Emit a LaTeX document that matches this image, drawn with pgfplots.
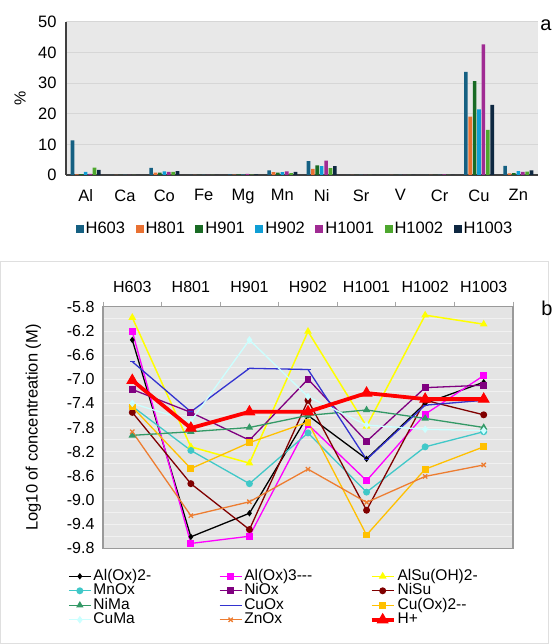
\documentclass[border=0pt]{standalone}
\usepackage{fontspec}
\setmainfont{Liberation Sans}
\usepackage{pgfplots}
\pgfplotsset{compat=1.18}
\definecolor{cA}{HTML}{156082}
\definecolor{cB}{HTML}{E97132}
\definecolor{cC}{HTML}{196B24}
\definecolor{cD}{HTML}{0F9ED5}
\definecolor{cE}{HTML}{A02B93}
\definecolor{cF}{HTML}{4EA72E}
\definecolor{cG}{HTML}{0E2841}
\definecolor{bgA}{HTML}{E8E8E8}
\definecolor{gridA}{HTML}{D6D6D6}
\definecolor{bgB}{HTML}{E4E4E4}
\definecolor{frameB}{HTML}{9A9A9A}
\definecolor{mag}{HTML}{FF00FF}
\definecolor{yel}{HTML}{FFFF00}
\definecolor{mno}{HTML}{40C8C8}
\definecolor{nio}{HTML}{800080}
\definecolor{nisu}{HTML}{800000}
\definecolor{nima}{HTML}{339966}
\definecolor{cuox}{HTML}{3333D0}
\definecolor{cuoxb}{HTML}{FFC000}
\definecolor{cuma}{HTML}{CCFFFF}
\definecolor{znox}{HTML}{ED7D31}
\pgfplotsset{every axis/.append style={/pgf/number format/assume math mode=true}}
\begin{document}
\begin{tikzpicture}
\useasboundingbox (0pt,0pt) rectangle (553pt,644pt);
\draw[gray!25, line width=1pt] (0.5pt,0.5pt) rectangle (548pt,382pt);
\node[font=\fontsize{20}{20}\selectfont] at (546pt,619pt) {a};
\node[font=\fontsize{20}{20}\selectfont] at (547pt,336pt) {b};
% ---------------- panel a
\begin{axis}[
  at={(66pt,469pt)}, anchor=south west, scale only axis,
  width=472pt, height=153.3pt,
  ymin=0, ymax=50, ytick={0,10,20,30,40,50},
  xmin=-0.5, xmax=11.5, xtick={0,...,11},
  xticklabels={Al,Ca,Co,Fe,Mg,Mn,Ni,Sr,V,Cr,Cu,Zn},
  ybar=0.8pt, bar width=3.6pt,
  axis background/.style={fill=bgA},
  axis x line*=bottom, axis y line*=left,
  axis line style={draw=black!75, line width=1.2pt},
  ymajorgrids, grid style={gridA, line width=0.8pt},
  major tick length=0pt,
  tick label style={font=\fontsize{16.5}{16.5}\selectfont},
  yticklabel style={xshift=-6pt},
  xticklabel style={yshift=-11pt},
  ylabel={\%},
  every axis y label/.style={at={(axis description cs:-0.097,0.5)}, rotate=90, anchor=center, font=\fontsize{16}{16}\selectfont},
  legend columns=7,
  legend style={at={(axis description cs:0.485,-0.35)}, anchor=center, draw=none, fill=none,
    font=\fontsize{16.5}{16.5}\selectfont, inner sep=0pt,
    nodes={inner sep=2pt},
    /tikz/every even column/.append style={column sep=8.5pt}},
  legend image code/.code={\fill[#1,draw=none] (0pt,-4pt) rectangle (8pt,4pt);},
]
\addplot[fill=cA,draw=none] coordinates {(0,11.3)(1,0)(2,2.3)(3,0)(4,0.2)(5,1.5)(6,4.5)(7,0)(8,0)(9,0)(10,33.6)(11,3.0)};
\addplot[fill=cB,draw=none] coordinates {(0,0.2)(1,0)(2,0.8)(3,0)(4,0.1)(5,0.9)(6,2.0)(7,0)(8,0)(9,0)(10,19.0)(11,0.5)};
\addplot[fill=cC,draw=none] coordinates {(0,0.3)(1,0)(2,0.8)(3,0)(4,0.2)(5,0.8)(6,3.1)(7,0)(8,0)(9,0)(10,30.6)(11,0.6)};
\addplot[fill=cD,draw=none] coordinates {(0,1.0)(1,0)(2,1.2)(3,0)(4,0.1)(5,0.9)(6,2.9)(7,0)(8,0)(9,0)(10,21.4)(11,1.3)};
\addplot[fill=cE,draw=none] coordinates {(0,0.4)(1,0)(2,1.0)(3,0)(4,0.4)(5,1.2)(6,4.7)(7,0)(8,0)(9,0.2)(10,42.6)(11,1.0)};
\addplot[fill=cF,draw=none] coordinates {(0,2.4)(1,0)(2,1.0)(3,0)(4,0.1)(5,0.6)(6,2.2)(7,0)(8,0)(9,0)(10,14.7)(11,1.1)};
\addplot[fill=cG,draw=none] coordinates {(0,1.7)(1,0)(2,1.3)(3,0)(4,0.2)(5,1.0)(6,2.9)(7,0)(8,0)(9,0)(10,22.9)(11,1.5)};
\legend{H603,H801,H901,H902,H1001,H1002,H1003}
\end{axis}
% ---------------- panel b
\begin{axis}[
  at={(103pt,95.7pt)}, anchor=south west, scale only axis,
  width=410pt, height=241.6pt,
  xmin=-0.5, xmax=6.5, ymin=-9.8, ymax=-5.8,
  xtick={0,...,6}, xticklabels={H603,H801,H901,H902,H1001,H1002,H1003},
  xticklabel pos=right, xtick pos=right,
  minor xtick={-0.5,0.5,1.5,2.5,3.5,4.5,5.5,6.5},
  ytick={-9.8,-9.4,-9.0,-8.6,-8.2,-7.8,-7.4,-7.0,-6.6,-6.2,-5.8},
  minor ytick={-9.6,-9.2,-8.8,-8.4,-8.0,-7.6,-7.2,-6.8,-6.4,-6.0},
  ytick pos=left,
  minor y tick style={draw=none},
  major tick length=0pt, minor tick length=5pt, tick align=outside,
  minor x tick style={draw=black!35, line width=0.8pt},
  ymajorgrids, yminorgrids,
  major grid style={white!50!bgB, line width=0.6pt},
  minor grid style={white!50!bgB, line width=0.6pt},
  axis background/.style={fill=bgB},
  axis line style={draw=frameB, line width=1.2pt},
  tick label style={font=\fontsize{16}{16}\selectfont},
  yticklabel style={/pgf/number format/.cd, fixed, fixed zerofill, precision=1, /tikz/.cd, xshift=-5pt},
  xticklabel style={yshift=11pt},
  ylabel={Log10 of concentreation (M)},
  every axis y label/.style={at={(axis description cs:-0.17,0.5)}, rotate=90, anchor=center, font=\fontsize{16.5}{16.5}\selectfont},
  legend columns=3,
  legend style={at={(axis description cs:-0.0854,-0.085)}, anchor=north west, draw=none, fill=none,
    font=\fontsize{15.5}{15.5}\selectfont, inner sep=0pt, row sep=0pt,
    nodes={inner sep=0pt, text height=11pt, text depth=3.5pt, text width=120pt, align=left},
    /tikz/every odd column/.append style={column sep=2pt},
    /tikz/every even column/.append style={column sep=5.5pt}},
  legend image code/.code={\draw[mark repeat=2,mark phase=2,#1] plot coordinates {(0pt,0pt) (11pt,0pt) (22pt,0pt)};},
]
\addplot[black, line width=1.3pt, mark=diamond*, mark size=2.2pt] coordinates {(0,-6.35)(1,-9.61)(2,-9.22)(3,-7.60)(4,-8.32)(5,-7.40)(6,-7.05)};
\addplot[mag, line width=1.3pt, mark=square*, mark size=2.8pt] coordinates {(0,-6.21)(1,-9.72)(2,-9.60)(3,-7.75)(4,-8.68)(5,-7.58)(6,-6.94)};
\addplot[yel, line width=1.5pt, mark=triangle*, mark size=3pt] coordinates {(0,-5.98)(1,-8.12)(2,-8.39)(3,-6.21)(4,-7.78)(5,-5.94)(6,-6.09)};
\addplot[mno, line width=1.3pt, mark=*, mark size=2.8pt] coordinates {(0,-7.45)(1,-8.18)(2,-8.73)(3,-7.89)(4,-8.87)(5,-8.12)(6,-7.87)};
\addplot[nio, line width=1.3pt, mark=square*, mark size=2.8pt] coordinates {(0,-7.17)(1,-7.55)(2,-8.01)(3,-7.00)(4,-8.03)(5,-7.14)(6,-7.10)};
\addplot[nisu, line width=1.3pt, mark=*, mark size=2.8pt] coordinates {(0,-7.55)(1,-8.73)(2,-9.49)(3,-7.35)(4,-9.17)(5,-7.35)(6,-7.59)};
\addplot[nima, line width=1.3pt, mark=triangle*, mark size=3pt] coordinates {(0,-7.93)(1,-7.87)(2,-7.80)(3,-7.60)(4,-7.51)(5,-7.65)(6,-7.80)};
\addplot[cuox, line width=1.3pt, mark=-, mark size=2.5pt] coordinates {(0,-6.71)(1,-7.54)(2,-6.82)(3,-6.84)(4,-8.33)(5,-7.43)(6,-7.35)};
\addplot[cuoxb, line width=1.3pt, mark=square*, mark size=2.8pt] coordinates {(0,-7.46)(1,-8.48)(2,-8.05)(3,-7.71)(4,-9.58)(5,-8.49)(6,-8.12)};
\addplot[cuma, line width=1.3pt, mark=diamond*, mark size=2.8pt] coordinates {(0,-7.40)(1,-7.70)(2,-6.35)(3,-7.29)(4,-7.76)(5,-7.83)(6,-7.85)};
\addplot[znox, line width=1.3pt, mark=x, mark size=3pt] coordinates {(0,-7.87)(1,-9.26)(2,-9.03)(3,-8.49)(4,-9.04)(5,-8.61)(6,-8.42)};
\addplot[red, line width=3.8pt, mark=triangle*, mark size=6pt, mark options={line width=1pt}] coordinates {(0,-7.02)(1,-7.81)(2,-7.54)(3,-7.54)(4,-7.23)(5,-7.33)(6,-7.33)};
\legend{Al(Ox)2-,Al(Ox)3-{}-{}-,AlSu(OH)2-,MnOx,NiOx,NiSu,NiMa,CuOx,Cu(Ox)2-{}-,CuMa,ZnOx,H+}
\end{axis}
\end{tikzpicture}
\end{document}
